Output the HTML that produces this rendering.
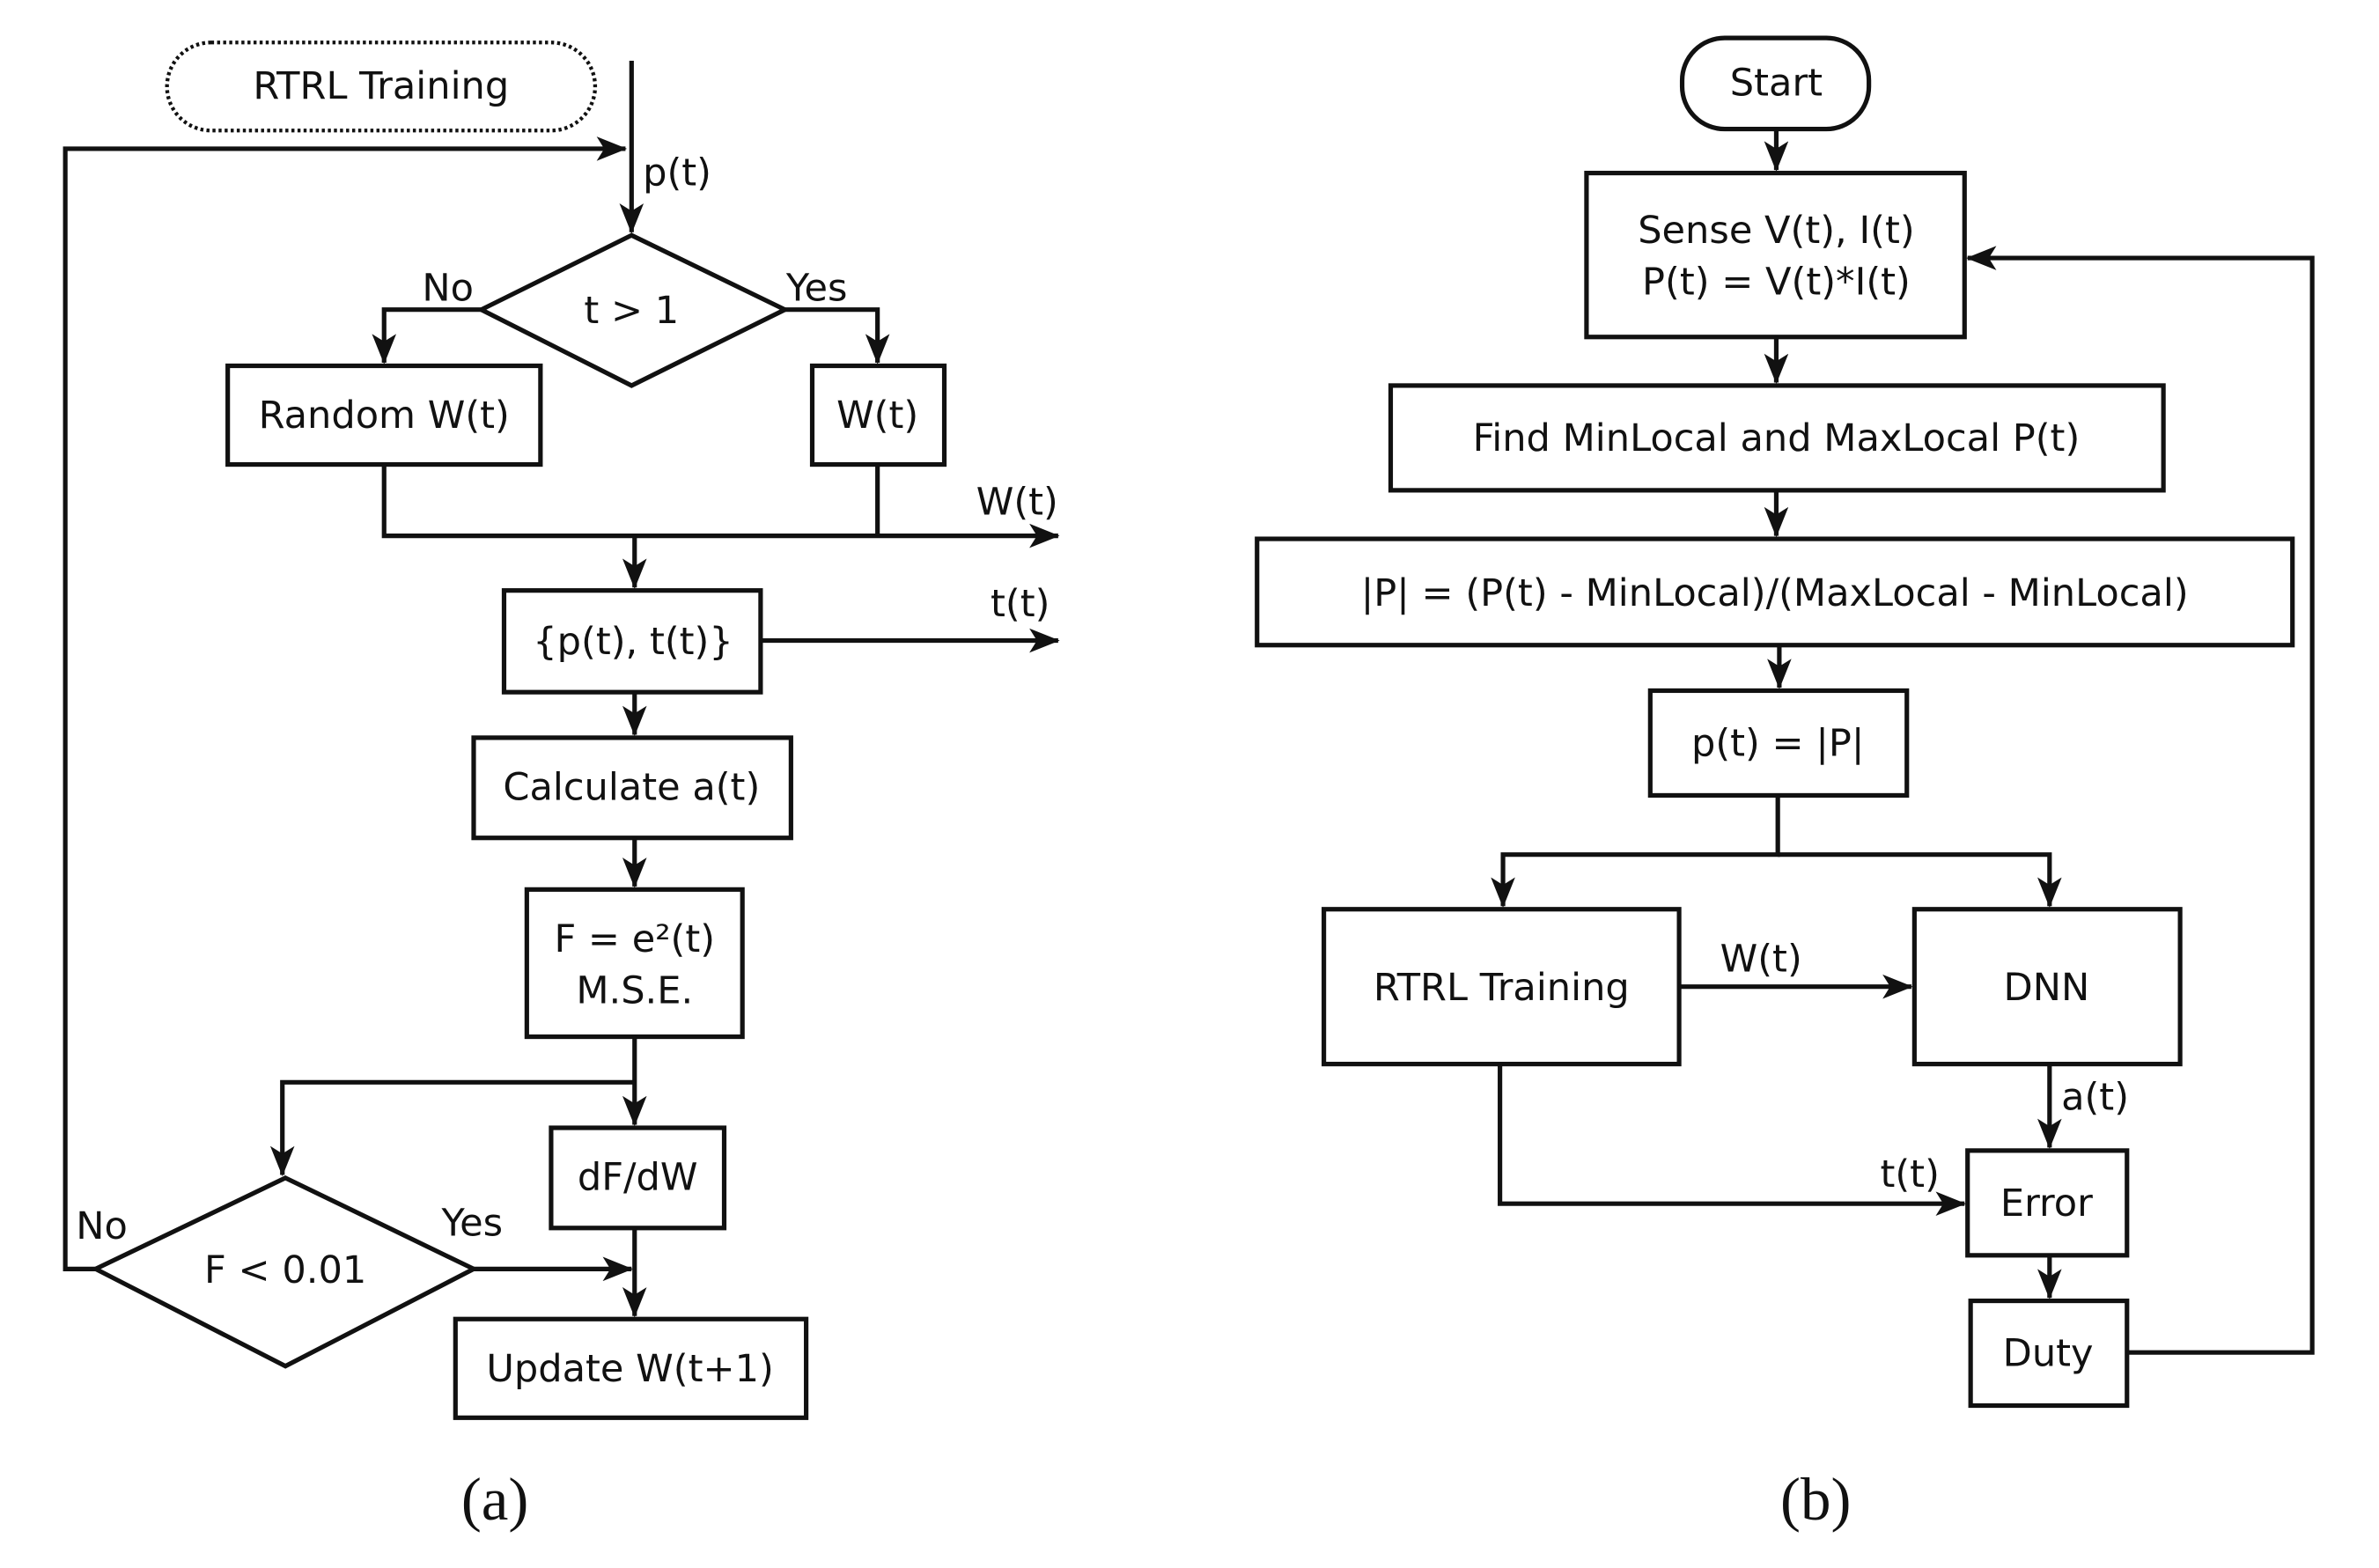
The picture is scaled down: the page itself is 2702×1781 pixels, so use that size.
<!DOCTYPE html>
<html><head><meta charset="utf-8"><style>
html,body{margin:0;padding:0;background:#fff;}
svg{display:block;}
text{font-family:"DejaVu Sans","Liberation Sans",sans-serif;font-size:25px;fill:#111;}
.s{font-family:"Liberation Serif",serif;font-size:40px;}
</style></head><body>
<svg width="2702" height="1781" viewBox="0 0 1567 1033" preserveAspectRatio="none" xmlns="http://www.w3.org/2000/svg">
<defs><marker id="b" markerWidth="20" markerHeight="16" refX="19" refY="8" orient="auto" markerUnits="userSpaceOnUse"><path d="M0,0 L20,8 L0,16 L5,8 z" fill="#111"/></marker></defs>
<g fill="none" stroke="#111" stroke-width="3">
<!-- (a) -->
<rect x="110" y="28" width="282" height="58" rx="29" stroke-dasharray="2,2" stroke-width="2.5"/>
<line x1="416" y1="40" x2="416" y2="153" marker-end="url(#b)"/>
<polyline points="63,836 43,836 43,98 412,98" marker-end="url(#b)"/>
<polygon points="416,155 517,204 416,254 317,204"/>
<polyline points="317,204 253,204 253,239" marker-end="url(#b)"/>
<polyline points="517,204 578,204 578,239" marker-end="url(#b)"/>
<rect x="150" y="241" width="206" height="65"/>
<rect x="535" y="241" width="87" height="65"/>
<polyline points="253,306 253,353 697,353" marker-end="url(#b)"/>
<line x1="578" y1="306" x2="578" y2="353"/>
<line x1="418" y1="353" x2="418" y2="387" marker-end="url(#b)"/>
<rect x="332" y="389" width="169" height="67"/>
<line x1="501" y1="422" x2="697" y2="422" marker-end="url(#b)"/>
<line x1="418" y1="456" x2="418" y2="484" marker-end="url(#b)"/>
<rect x="312" y="486" width="209" height="66"/>
<line x1="418" y1="552" x2="418" y2="584" marker-end="url(#b)"/>
<rect x="347" y="586" width="142" height="97"/>
<line x1="418" y1="683" x2="418" y2="741" marker-end="url(#b)"/>
<polyline points="418,713 186,713 186,774" marker-end="url(#b)"/>
<rect x="363" y="743" width="114" height="66"/>
<line x1="418" y1="809" x2="418" y2="867" marker-end="url(#b)"/>
<polygon points="188,776 312,836 188,900 63,836"/>
<line x1="312" y1="836" x2="416" y2="836" marker-end="url(#b)"/>
<rect x="300" y="869" width="231" height="65"/>
<!-- (b) -->
<rect x="1108" y="25" width="123" height="60" rx="28"/>
<line x1="1170" y1="85" x2="1170" y2="112" marker-end="url(#b)"/>
<rect x="1045" y="114" width="249" height="108"/>
<line x1="1170" y1="222" x2="1170" y2="252" marker-end="url(#b)"/>
<rect x="916" y="254" width="509" height="69"/>
<line x1="1170" y1="323" x2="1170" y2="353" marker-end="url(#b)"/>
<rect x="828" y="355" width="682" height="70"/>
<line x1="1172" y1="425" x2="1172" y2="453" marker-end="url(#b)"/>
<rect x="1087" y="455" width="169" height="69"/>
<polyline points="1171,524 1171,563 990,563 990,597" marker-end="url(#b)"/>
<polyline points="1171,563 1350,563 1350,597" marker-end="url(#b)"/>
<rect x="872" y="599" width="234" height="102"/>
<rect x="1261" y="599" width="175" height="102"/>
<line x1="1106" y1="650" x2="1259" y2="650" marker-end="url(#b)"/>
<line x1="1350" y1="701" x2="1350" y2="756" marker-end="url(#b)"/>
<rect x="1296" y="758" width="105" height="69"/>
<polyline points="988,701 988,793 1294,793" marker-end="url(#b)"/>
<line x1="1350" y1="827" x2="1350" y2="855" marker-end="url(#b)"/>
<rect x="1298" y="857" width="103" height="69"/>
<polyline points="1401,891 1523,891 1523,170 1296,170" marker-end="url(#b)"/>
</g>
<g text-anchor="middle">
<text x="251" y="65">RTRL Training</text>
<text x="446" y="122">p(t)</text>
<text x="416" y="213">t &gt; 1</text>
<text x="295" y="198">No</text>
<text x="538" y="198">Yes</text>
<text x="253" y="282">Random W(t)</text>
<text x="578" y="282">W(t)</text>
<text x="670" y="339">W(t)</text>
<text x="417" y="431">{p(t), t(t)}</text>
<text x="672" y="406">t(t)</text>
<text x="416" y="527">Calculate a(t)</text>
<text x="418" y="627">F = e²(t)</text>
<text x="418" y="661">M.S.E.</text>
<text x="420" y="784">dF/dW</text>
<text x="188" y="845">F &lt; 0.01</text>
<text x="67" y="816">No</text>
<text x="311" y="814">Yes</text>
<text x="415" y="910">Update W(t+1)</text>
<text class="s" x="326" y="1001">(a)</text>
<text x="1170" y="63">Start</text>
<text x="1170" y="160">Sense V(t), I(t)</text>
<text x="1170" y="194">P(t) = V(t)*I(t)</text>
<text x="1170" y="297">Find MinLocal and MaxLocal P(t)</text>
<text x="1169" y="399">|P| = (P(t) - MinLocal)/(MaxLocal - MinLocal)</text>
<text x="1171" y="498">p(t) = |P|</text>
<text x="989" y="659">RTRL Training</text>
<text x="1348" y="659">DNN</text>
<text x="1160" y="640">W(t)</text>
<text x="1380" y="731">a(t)</text>
<text x="1348" y="801">Error</text>
<text x="1258" y="782">t(t)</text>
<text x="1349" y="900">Duty</text>
<text class="s" x="1196" y="1001">(b)</text>
</g>
</svg>
</body></html>
